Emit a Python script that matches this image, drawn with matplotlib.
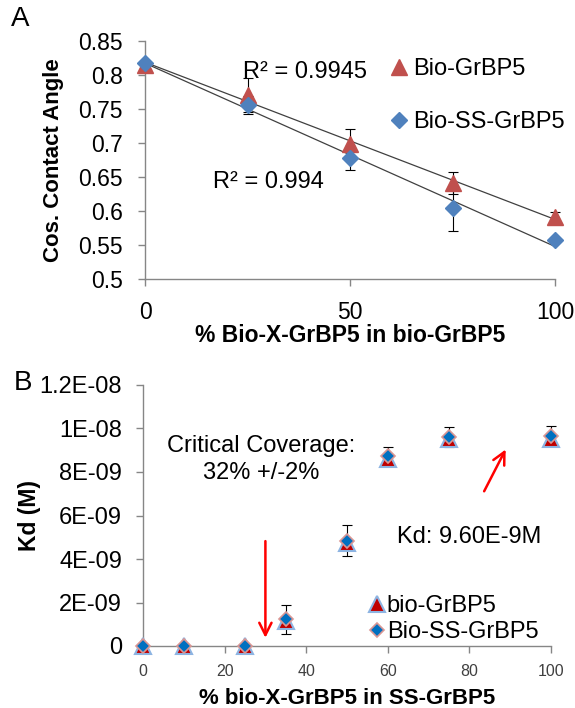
import matplotlib
matplotlib.use('Agg')
import matplotlib.pyplot as plt
import numpy as np

plt.rcParams['font.family'] = ['Liberation Sans', 'DejaVu Sans']

# -------------------------------------------------------------------------------------
# Data
# -------------------------------------------------------------------------------------
# Panel A: cos(contact angle) vs % bio-X-GrBP5
pctA = [0, 25, 50, 75, 100]
bio_cos = [0.815, 0.771, 0.698, 0.641, 0.591]
bio_cos_err = [0.004, 0.025, 0.022, 0.016, 0.008]
ss_cos = [0.818, 0.756, 0.678, 0.604, 0.557]
ss_cos_err = [0.003, 0.013, 0.018, 0.033, 0.003]
r2_bio = 'R² = 0.9945'
r2_ss = 'R² = 0.994'

# Panel B: Kd vs % bio-X-GrBP5 in SS-GrBP5
pctB = [0, 10, 25, 35, 50, 60, 75, 100]
bio_kd = [0, 0, 0, 1.15e-9, 4.75e-9, 8.6e-9, 9.5e-9, 9.5e-9]
ss_kd = [0, 0, 0, 1.22e-9, 4.85e-9, 8.72e-9, 9.62e-9, 9.65e-9]
ss_kd_err = [0, 0, 0, 0.65e-9, 0.73e-9, 0.42e-9, 0.46e-9, 0.46e-9]
kdB_ticks = [0, 2e-9, 4e-9, 6e-9, 8e-9, 1e-8, 1.2e-8]
kdB_labels = ['0', '2E-09', '4E-09', '6E-09', '8E-09', '1E-08', '1.2E-08']

axis_gray = '#868686'
W, H = 575, 708
FS = 17

fig = plt.figure(figsize=(W / 100, H / 100), dpi=100)
axA = fig.add_axes([145 / W, 1 - 279 / H, (555 - 145) / W, (279 - 41) / H])
axB = fig.add_axes([143 / W, 1 - 646 / H, (551 - 143) / W, (646 - 385) / H])

for ax in (axA, axB):
    for s in ('top', 'right'):
        ax.spines[s].set_visible(False)
    for s in ('left', 'bottom'):
        ax.spines[s].set_color(axis_gray)
        ax.spines[s].set_linewidth(1.0)
    ax.tick_params(color=axis_gray, length=5, width=1.0, direction='out')

# -------------------------------------------------------------------------------------
# Panel A
# -------------------------------------------------------------------------------------
xfit = np.array([0, 100])
for vals in (bio_cos, ss_cos):
    p = np.polyfit(pctA, vals, 1)
    axA.plot(xfit, np.polyval(p, xfit), color='#404040', lw=0.9, zorder=2)

axA.errorbar(pctA, bio_cos, yerr=bio_cos_err, fmt='none', ecolor='black',
             elinewidth=0.8, capsize=3.5, capthick=0.8, zorder=3, clip_on=False)
axA.errorbar(pctA, ss_cos, yerr=ss_cos_err, fmt='none', ecolor='black',
             elinewidth=0.8, capsize=3.5, capthick=0.8, zorder=3, clip_on=False)
axA.plot(pctA, bio_cos, ls='none', marker='^', ms=11, color='#C0504D',
         label='Bio-GrBP5', zorder=4, clip_on=False)
axA.plot(pctA, ss_cos, ls='none', marker='D', ms=8, color='#4F81BD',
         label='Bio-SS-GrBP5', zorder=5, clip_on=False)

axA.set_xlim(0, 100)
axA.set_ylim(0.5, 0.85)
axA.set_xticks([0, 50, 100])
axA.set_yticks(np.arange(0.5, 0.851, 0.05))
axA.set_yticklabels(['0.5', '0.55', '0.6', '0.65', '0.7', '0.75', '0.8', '0.85'])
axA.tick_params(labelsize=16.5, pad=11)
axA.set_ylabel('Cos. Contact Angle', fontsize=16, fontweight='bold')
axA.yaxis.set_label_coords(-0.198, 0.5)
axA.set_xlabel('% Bio-X-GrBP5 in bio-GrBP5', fontsize=16.5, fontweight='bold')
axA.xaxis.set_label_coords(0.5, -0.19)

axA.text(23.9, 0.804, r2_bio, fontsize=FS, va='center', ha='left')
axA.text(16.6, 0.643, r2_ss, fontsize=FS, va='center', ha='left')

axA.legend(loc='upper left', bbox_to_anchor=(0.585, 0.9475), frameon=False, fontsize=FS,
           numpoints=1, handlelength=0.8, handletextpad=0.2, labelspacing=1.3,
           borderpad=0.2, borderaxespad=0)

# -------------------------------------------------------------------------------------
# Panel B
# -------------------------------------------------------------------------------------
axB.errorbar(pctB, ss_kd, yerr=ss_kd_err, fmt='none', ecolor='black',
             elinewidth=0.8, capsize=3.5, capthick=0.8, zorder=3, clip_on=False)
axB.plot(pctB, bio_kd, ls='none', marker='^', ms=12, color='#C00000',
         mec='#8DB4E2', mew=1.5, label='bio-GrBP5', zorder=4, clip_on=False)
axB.plot(pctB, ss_kd, ls='none', marker='D', ms=7.5, color='#0070C0',
         mec='#D99694', mew=1.2, label='Bio-SS-GrBP5', zorder=5, clip_on=False)

axB.set_xlim(0, 100)
axB.set_ylim(0, 1.2e-8)
axB.set_xticks(np.arange(0, 101, 20))
axB.set_yticks(kdB_ticks)
axB.set_yticklabels(kdB_labels)
axB.tick_params(axis='y', labelsize=17, pad=10)
axB.tick_params(axis='x', labelsize=11.5, pad=8, labelcolor='#404040')
axB.set_ylabel('Kd (M)', fontsize=16.5, fontweight='bold')
axB.yaxis.set_label_coords(-0.25, 0.5)
axB.set_xlabel('% bio-X-GrBP5 in SS-GrBP5', fontsize=16, fontweight='bold')
axB.xaxis.set_label_coords(0.5, -0.162)

axB.text(28.9, 8.59e-9, 'Critical Coverage:\n32% +/-2%', fontsize=FS,
         ha='center', va='center', linespacing=1.3)
axB.text(62.3, 5.03e-9, 'Kd: 9.60E-9M', fontsize=FS, ha='left', va='center')

axB.annotate('', xy=(30, 0.25e-9), xytext=(30, 4.95e-9),
             arrowprops=dict(arrowstyle='->', color='red', lw=1.8, mutation_scale=22))
axB.annotate('', xy=(89.2, 9.15e-9), xytext=(83.3, 7.0e-9),
             arrowprops=dict(arrowstyle='->', color='red', lw=1.8, mutation_scale=22))

axB.legend(loc='upper left', bbox_to_anchor=(0.544, 0.213), frameon=False, fontsize=FS,
           numpoints=1, handlelength=0.6, handletextpad=0.12, labelspacing=0.17,
           borderpad=0.2, borderaxespad=0)

fig.text(20 / W, 1 - 19 / H, 'A', fontsize=20, ha='center', va='center')
fig.text(23 / W, 1 - 383 / H, 'B', fontsize=20, ha='center', va='center')

fig.savefig('out.png', dpi=100)
